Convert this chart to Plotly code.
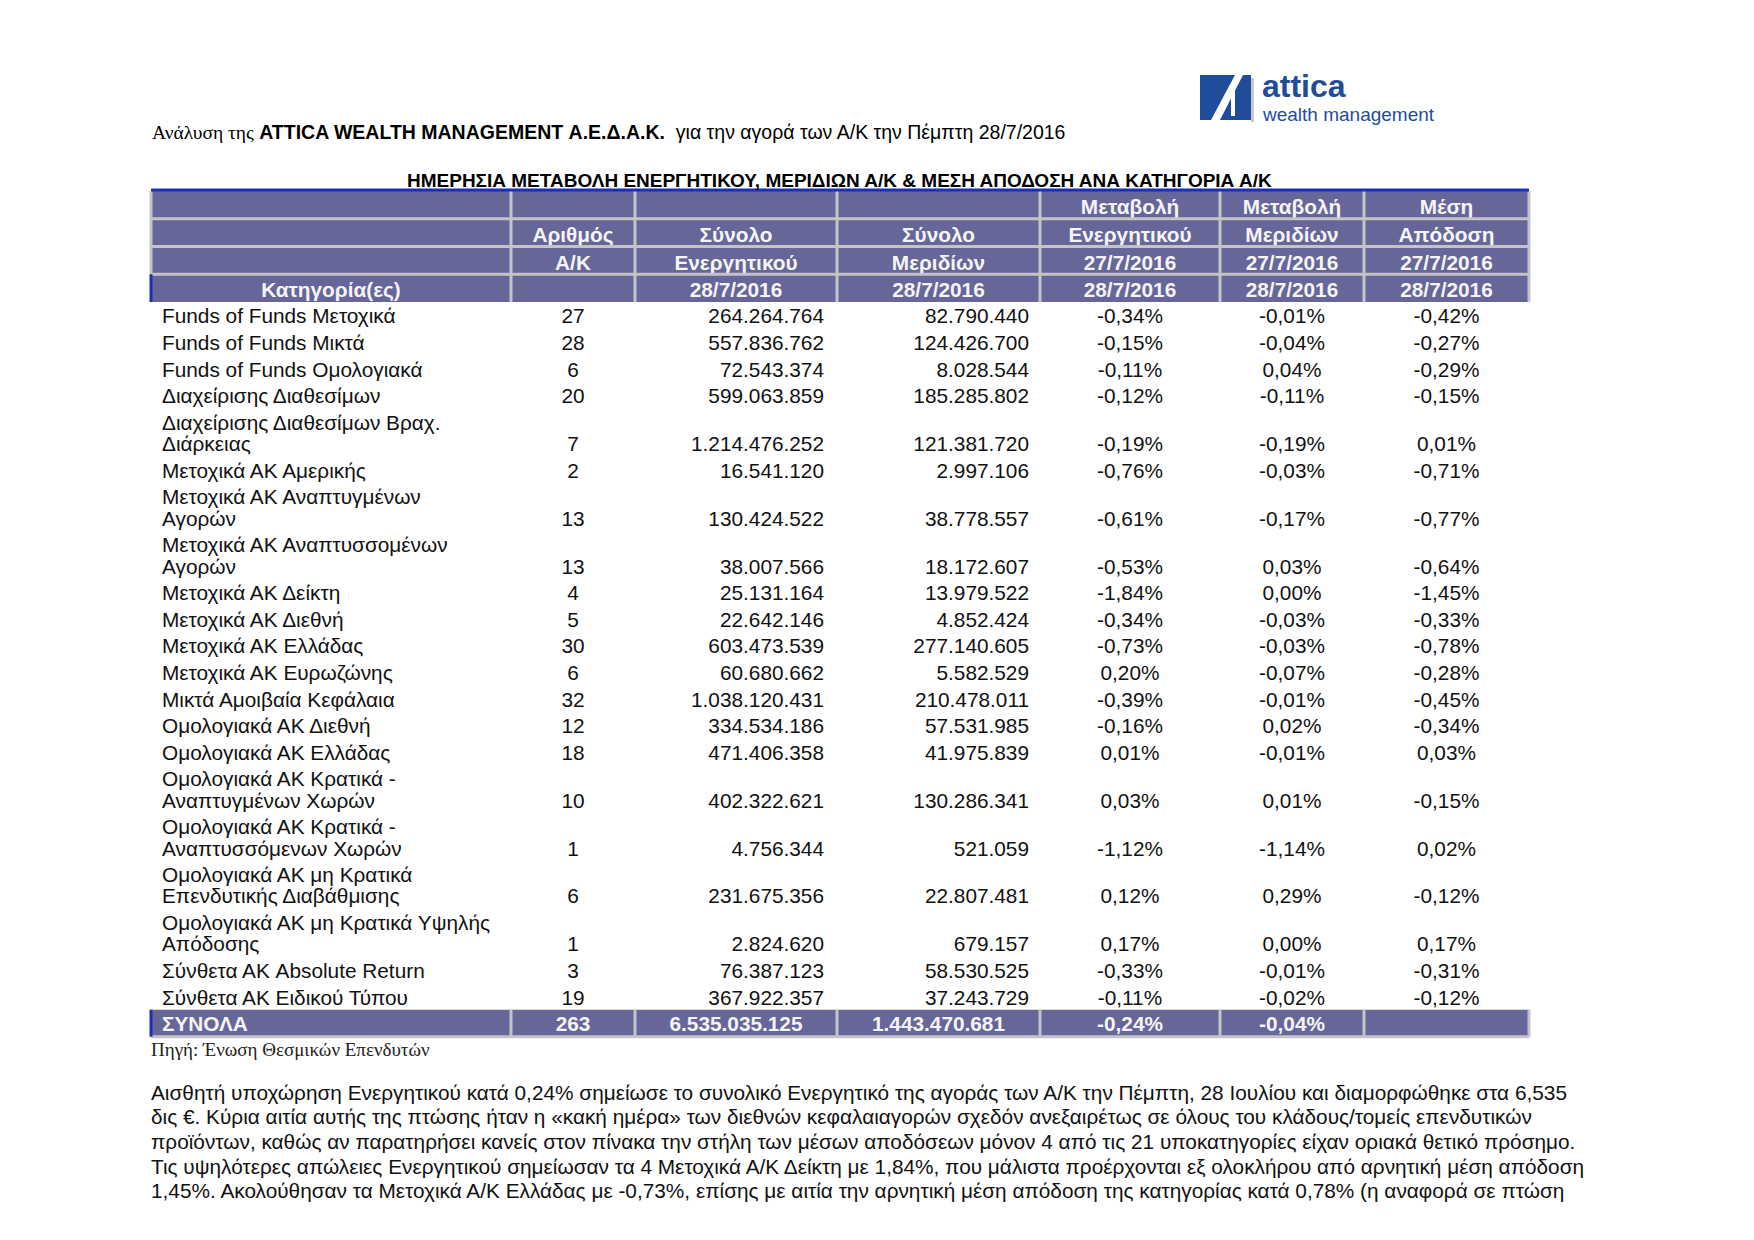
import plotly.graph_objects as go

# ---------------- data ----------------
categories = [
    "Funds of Funds Μετοχικά",
    "Funds of Funds Μικτά",
    "Funds of Funds Ομολογιακά",
    "Διαχείρισης Διαθεσίμων",
    "Διαχείρισης Διαθεσίμων Βραχ.\nΔιάρκειας",
    "Μετοχικά ΑΚ Αμερικής",
    "Μετοχικά ΑΚ Αναπτυγμένων\nΑγορών",
    "Μετοχικά ΑΚ Αναπτυσσομένων\nΑγορών",
    "Μετοχικά ΑΚ Δείκτη",
    "Μετοχικά ΑΚ Διεθνή",
    "Μετοχικά ΑΚ Ελλάδας",
    "Μετοχικά ΑΚ Ευρωζώνης",
    "Μικτά Αμοιβαία Κεφάλαια",
    "Ομολογιακά ΑΚ Διεθνή",
    "Ομολογιακά ΑΚ Ελλάδας",
    "Ομολογιακά ΑΚ Κρατικά -\nΑναπτυγμένων Χωρών",
    "Ομολογιακά ΑΚ Κρατικά -\nΑναπτυσσόμενων Χωρών",
    "Ομολογιακά ΑΚ μη Κρατικά\nΕπενδυτικής Διαβάθμισης",
    "Ομολογιακά ΑΚ μη Κρατικά Υψηλής\nΑπόδοσης",
    "Σύνθετα ΑΚ Absolute Return",
    "Σύνθετα ΑΚ Ειδικού Τύπου",
]
fund_counts = [27, 28, 6, 20, 7, 2, 13, 13, 4, 5, 30, 6, 32, 12, 18, 10, 1, 6, 1, 3, 19]
total_assets = [264264764, 557836762, 72543374, 599063859, 1214476252, 16541120,
                130424522, 38007566, 25131164, 22642146, 603473539, 60680662,
                1038120431, 334534186, 471406358, 402322621, 4756344, 231675356,
                2824620, 76387123, 367922357]
total_units = [82790440, 124426700, 8028544, 185285802, 121381720, 2997106,
               38778557, 18172607, 13979522, 4852424, 277140605, 5582529,
               210478011, 57531985, 41975839, 130286341, 521059, 22807481,
               679157, 58530525, 37243729]
assets_change = [-0.34, -0.15, -0.11, -0.12, -0.19, -0.76, -0.61, -0.53, -1.84, -0.34,
                 -0.73, 0.20, -0.39, -0.16, 0.01, 0.03, -1.12, 0.12, 0.17, -0.33, -0.11]
units_change = [-0.01, -0.04, 0.04, -0.11, -0.19, -0.03, -0.17, 0.03, 0.00, -0.03,
                -0.03, -0.07, -0.01, 0.02, -0.01, 0.01, -1.14, 0.29, 0.00, -0.01, -0.02]
avg_return = [-0.42, -0.27, -0.29, -0.15, 0.01, -0.71, -0.77, -0.64, -1.45, -0.33,
              -0.78, -0.28, -0.45, -0.34, 0.03, -0.15, 0.02, -0.12, 0.17, -0.31, -0.12]

total_label = "ΣΥΝΟΛΑ"
total_count = 263
total_assets_sum = 6535035125
total_units_sum = 1443470681
total_assets_change = -0.24
total_units_change = -0.04

header_rows = [
    ["", "", "", "", "Μεταβολή", "Μεταβολή", "Μέση"],
    ["", "Αριθμός", "Σύνολο", "Σύνολο", "Ενεργητικού", "Μεριδίων", "Απόδοση"],
    ["", "Α/Κ", "Ενεργητικού", "Μεριδίων", "27/7/2016", "27/7/2016", "27/7/2016"],
    ["Κατηγορία(ες)", "", "28/7/2016", "28/7/2016", "28/7/2016", "28/7/2016", "28/7/2016"],
]

doc_title_serif = "Ανάλυση της"
doc_title_bold = "ATTICA WEALTH MANAGEMENT Α.Ε.Δ.Α.Κ."
doc_title_rest = "για την αγορά των Α/Κ την Πέμπτη 28/7/2016"
table_title = "ΗΜΕΡΗΣΙΑ ΜΕΤΑΒΟΛΗ ΕΝΕΡΓΗΤΙΚΟΥ, ΜΕΡΙΔΙΩΝ Α/Κ &amp; ΜΕΣΗ ΑΠΟΔΟΣΗ ΑΝΑ ΚΑΤΗΓΟΡΙΑ Α/Κ"
source_note = "Πηγή: Ένωση Θεσμικών Επενδυτών"
paragraph_lines = [
    "Αισθητή υποχώρηση Ενεργητικού κατά 0,24% σημείωσε το συνολικό Ενεργητικό της αγοράς των Α/Κ την Πέμπτη, 28 Ιουλίου και διαμορφώθηκε στα 6,535",
    "δις €. Κύρια αιτία αυτής της πτώσης ήταν η «κακή ημέρα» των διεθνών κεφαλαιαγορών σχεδόν ανεξαιρέτως σε όλους του κλάδους/τομείς επενδυτικών",
    "προϊόντων, καθώς αν παρατηρήσει κανείς στον πίνακα την στήλη των μέσων αποδόσεων μόνον 4 από τις 21 υποκατηγορίες είχαν οριακά θετικό πρόσημο.",
    "Τις υψηλότερες απώλειες Ενεργητικού σημείωσαν τα 4 Μετοχικά Α/Κ Δείκτη με 1,84%, που μάλιστα προέρχονται εξ ολοκλήρου από αρνητική μέση απόδοση",
    "1,45%. Ακολούθησαν τα Μετοχικά Α/Κ Ελλάδας με -0,73%, επίσης με αιτία την αρνητική μέση απόδοση της κατηγορίας κατά 0,78% (η αναφορά σε πτώση",
]
logo_word = "attica"
logo_sub = "wealth management"

# ---------------- helpers / styles ----------------
def fmt_int(v):
    return f"{v:,}".replace(",", ".")

def fmt_pct(v):
    return f"{v:.2f}".replace(".", ",") + "%"

W, H = 1754, 1240
SANS = "Liberation Sans, Arial, sans-serif"
SERIF = "Liberation Serif, Times New Roman, serif"
HEAD_FILL = "#666699"
GRID = "#c4c4c8"
BLUE_LINE = "#1c2fb0"
LOGO_BLUE = "#1f4d99"

col_edges = [151, 511, 635, 837, 1040, 1220, 1364, 1529]
HEADER_TOP = 191
HEADER_ROW_H = 27.75
HEADER_BOTTOM = HEADER_TOP + 4 * HEADER_ROW_H
SINGLE_H = 26.6
EXTRA_LINE = 21.3
FS = 20.8

cat_x = 162
count_x = (col_edges[1] + col_edges[2]) / 2
assets_x = col_edges[3] - 13
units_x = col_edges[4] - 11
pct_x = [(col_edges[i] + col_edges[i + 1]) / 2 for i in (4, 5, 6)]
col_centers = [(col_edges[i] + col_edges[i + 1]) / 2 for i in range(7)]

fig = go.Figure()
shapes = []

# header background + grid
shapes.append(dict(type="rect", x0=col_edges[0], x1=col_edges[-1], y0=HEADER_TOP,
                   y1=HEADER_BOTTOM, fillcolor=HEAD_FILL, line_width=0, layer="below"))
for r in range(1, 4):
    yy = HEADER_TOP + r * HEADER_ROW_H
    shapes.append(dict(type="line", x0=col_edges[0], x1=col_edges[-1], y0=yy, y1=yy,
                       line=dict(color=GRID, width=3)))
for xx in col_edges[1:-1]:
    shapes.append(dict(type="line", x0=xx, x1=xx, y0=HEADER_TOP, y1=HEADER_BOTTOM,
                       line=dict(color=GRID, width=3)))
shapes.append(dict(type="line", x0=col_edges[-1], x1=col_edges[-1], y0=HEADER_TOP,
                   y1=HEADER_BOTTOM, line=dict(color=GRID, width=3)))
shapes.append(dict(type="line", x0=col_edges[0], x1=col_edges[0], y0=HEADER_TOP,
                   y1=HEADER_TOP + 3 * HEADER_ROW_H, line=dict(color=GRID, width=3)))
shapes.append(dict(type="line", x0=col_edges[0], x1=col_edges[0],
                   y0=HEADER_TOP + 3 * HEADER_ROW_H, y1=HEADER_BOTTOM,
                   line=dict(color=BLUE_LINE, width=3)))
shapes.append(dict(type="line", x0=col_edges[0], x1=col_edges[-1], y0=HEADER_TOP - 1,
                   y1=HEADER_TOP - 1, line=dict(color=BLUE_LINE, width=3)))

# header text
hx, hy, ht = [], [], []
for r, row in enumerate(header_rows):
    for c, txt in enumerate(row):
        if txt:
            hx.append(col_centers[c])
            hy.append(HEADER_TOP + (r + 0.5) * HEADER_ROW_H + 4)
            ht.append("<b>" + txt + "</b>")
fig.add_trace(go.Scatter(x=hx, y=hy, text=ht, mode="text", textposition="middle center",
                         textfont=dict(family=SANS, size=FS, color="#f4f4f8"),
                         hoverinfo="skip", showlegend=False))

# data rows
cx, cy, ct = [], [], []
rx, ry, rt = [], [], []
lx, ly, lt = [], [], []
y = HEADER_BOTTOM
for i, cat in enumerate(categories):
    lines = cat.split("\n")
    h = SINGLE_H + EXTRA_LINE * (len(lines) - 1)
    bottom = y + h
    last_c = bottom - 10.3
    for k, ln in enumerate(lines):
        lx.append(cat_x)
        ly.append(last_c - EXTRA_LINE * (len(lines) - 1 - k))
        lt.append(ln)
    cx.append(count_x); cy.append(last_c); ct.append(str(fund_counts[i]))
    rx += [assets_x, units_x]; ry += [last_c, last_c]
    rt += [fmt_int(total_assets[i]), fmt_int(total_units[i])]
    for xx, v in zip(pct_x, (assets_change[i], units_change[i], avg_return[i])):
        cx.append(xx); cy.append(last_c); ct.append(fmt_pct(v))
    y = bottom

common = dict(mode="text", hoverinfo="skip", showlegend=False,
              textfont=dict(family=SANS, size=FS, color="#111111"))
fig.add_trace(go.Scatter(x=lx, y=ly, text=lt, textposition="middle right", **common))
fig.add_trace(go.Scatter(x=cx, y=cy, text=ct, textposition="middle center", **common))
fig.add_trace(go.Scatter(x=rx, y=ry, text=rt, textposition="middle left", **common))

# totals row
TOT_TOP = y
TOT_BOTTOM = TOT_TOP + 27
shapes.append(dict(type="rect", x0=col_edges[0], x1=col_edges[-1], y0=TOT_TOP,
                   y1=TOT_BOTTOM, fillcolor=HEAD_FILL, line_width=0, layer="below"))
for xx in col_edges[1:]:
    shapes.append(dict(type="line", x0=xx, x1=xx, y0=TOT_TOP, y1=TOT_BOTTOM,
                       line=dict(color=GRID, width=3)))
shapes.append(dict(type="line", x0=col_edges[0], x1=col_edges[-1], y0=TOT_BOTTOM,
                   y1=TOT_BOTTOM, line=dict(color=GRID, width=3)))
shapes.append(dict(type="line", x0=col_edges[0], x1=col_edges[0], y0=TOT_TOP,
                   y1=TOT_BOTTOM, line=dict(color=BLUE_LINE, width=3)))
tc = (TOT_TOP + TOT_BOTTOM) / 2 + 3
tot_vals = [str(total_count), fmt_int(total_assets_sum), fmt_int(total_units_sum),
            fmt_pct(total_assets_change), fmt_pct(total_units_change)]
fig.add_trace(go.Scatter(x=[cat_x], y=[tc], text=["<b>" + total_label + "</b>"],
                         mode="text", textposition="middle right",
                         textfont=dict(family=SANS, size=FS, color="#f4f4f8"),
                         hoverinfo="skip", showlegend=False))
fig.add_trace(go.Scatter(x=col_centers[1:6], y=[tc] * 5, text=["<b>" + v + "</b>" for v in tot_vals],
                         mode="text", textposition="middle center",
                         textfont=dict(family=SANS, size=FS, color="#f4f4f8"),
                         hoverinfo="skip", showlegend=False))

# logo
LX0, LX1, LY0, LY1 = 1200, 1251, 75, 120
shapes.append(dict(type="rect", x0=LX1, x1=LX1 + 3, y0=LY0 + 3, y1=LY1 + 2,
                   fillcolor="#c8c8cc", line_width=0))
shapes.append(dict(type="rect", x0=LX0, x1=LX1, y0=LY0, y1=LY1,
                   fillcolor=LOGO_BLUE, line_width=0))
shapes.append(dict(type="path",
                   path=f"M {LX0+11},{LY1} L {LX0+20},{LY1} L {LX0+43},{LY0} L {LX0+35},{LY0} Z",
                   fillcolor="white", line_width=0))
shapes.append(dict(type="path",
                   path=f"M {LX0+31},{LY0+17} L {LX0+35},{LY0+13} L {LX0+35},{LY1-4} L {LX0+31},{LY1-4} Z",
                   fillcolor="white", line_width=0))

annotations = [
    dict(x=1260, y=86, xref="x", yref="y", xanchor="left", yanchor="middle",
         text="<b>" + logo_word + "</b>", showarrow=False,
         font=dict(family=SANS, size=32, color=LOGO_BLUE)),
    dict(x=1260, y=114, xref="x", yref="y", xanchor="left", yanchor="middle",
         text=logo_sub, showarrow=False,
         font=dict(family=SANS, size=19, color=LOGO_BLUE)),
    dict(x=150, y=132, xref="x", yref="y", xanchor="left", yanchor="middle",
         text=f'<span style="font-family:{SERIF}">{doc_title_serif}</span> <b>{doc_title_bold}</b>  {doc_title_rest}',
         showarrow=False, font=dict(family=SANS, size=19.5, color="black")),
    dict(x=(col_edges[0] + col_edges[-1]) / 2 - 0.5, y=180, xref="x", yref="y",
         xanchor="center", yanchor="middle", text="<b>" + table_title + "</b>",
         showarrow=False, font=dict(family=SANS, size=19, color="black")),
    dict(x=149, y=1049, xref="x", yref="y", xanchor="left", yanchor="middle",
         text=source_note, showarrow=False, font=dict(family=SERIF, size=19, color="#222222")),
]
for k, ln in enumerate(paragraph_lines):
    annotations.append(dict(x=149, y=1092 + 24.7 * k, xref="x", yref="y", xanchor="left",
                            yanchor="middle", text=ln, showarrow=False,
                            font=dict(family=SANS, size=20.8, color="#111111")))

fig.update_layout(
    width=W, height=H, autosize=False,
    margin=dict(l=0, r=0, t=0, b=0, pad=0),
    paper_bgcolor="white", plot_bgcolor="white",
    xaxis=dict(range=[0, W], visible=False, fixedrange=True),
    yaxis=dict(range=[H, 0], visible=False, fixedrange=True),
    shapes=shapes, annotations=annotations,
)

fig.write_html("out.html", config={"displayModeBar": False},
               post_script="document.body.style.margin='0';document.body.style.overflow='hidden';")
